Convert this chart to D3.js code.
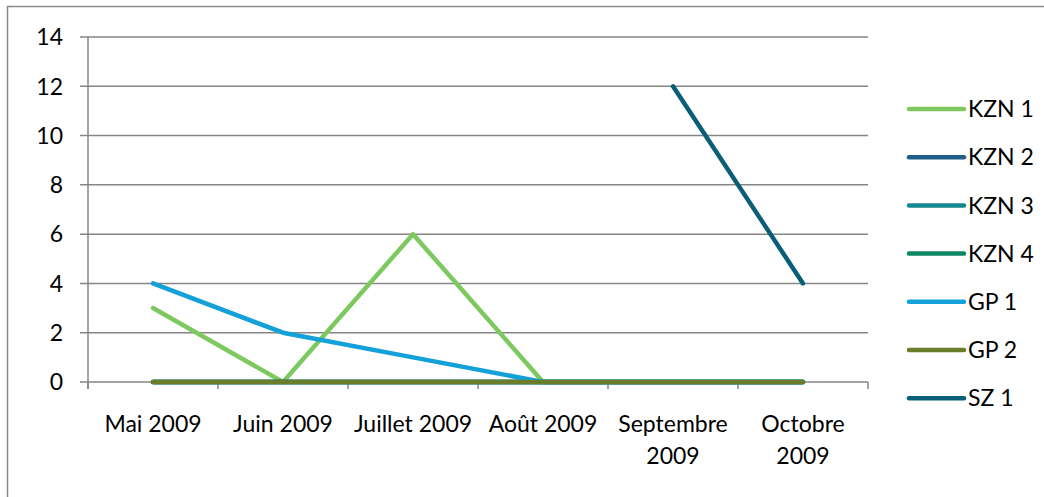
<!DOCTYPE html>
<html lang="fr">
<head>
<meta charset="UTF-8">
<title>Chart</title>
<script src="https://cdnjs.cloudflare.com/ajax/libs/d3/7.8.5/d3.min.js"></script>
<style>
  body { margin: 0; background: #fff; }
  text { font-family: Lato, "Open Sans", sans-serif; fill: #000; }
</style>
</head>
<body>
<div id="chart"></div>
<script>
var months = [["Mai 2009"], ["Juin 2009"], ["Juillet 2009"], ["Août 2009"], ["Septembre", "2009"], ["Octobre", "2009"]];
var yTicks = [0, 2, 4, 6, 8, 10, 12, 14];

var names  = ["KZN 1", "KZN 2", "KZN 3", "KZN 4", "GP 1", "GP 2", "SZ 1"];
var colors = ["#7ec95f", "#1d5f8a", "#14878f", "#0e8663", "#14a0d8", "#6a7d2a", "#0b5e78"];

var kzn1 = [3, 0, 6, 0, 0, 0];
var kzn2 = [0, 0, 0, 0, 0, 0];
var kzn3 = [0, 0, 0, 0, 0, 0];
var kzn4 = [0, 0, 0, 0, 0, 0];
var gp1  = [4, 2, 1, 0, 0, 0];
var gp2  = [0, 0, 0, 0, 0, 0];
var sz1  = [null, null, null, null, 12, 4];

var series = [kzn1, kzn2, kzn3, kzn4, gp1, gp2, sz1];

var width = 1044, height = 497;
var fontSize = 23;
var svg = d3.select("#chart").append("svg")
  .attr("width", width).attr("height", height);

// outer frame
svg.append("rect")
  .attr("x", 7.5).attr("y", 6.5)
  .attr("width", 1100).attr("height", 600)
  .attr("fill", "none").attr("stroke", "#8a8a8a").attr("stroke-width", 1.5);

var plotLeft = 88, plotRight = 868, plotTop = 37, plotBottom = 382;

var x = d3.scaleBand()
  .domain(d3.range(months.length))
  .range([plotLeft, plotRight]);
var y = d3.scaleLinear().domain([0, 14]).range([plotBottom, plotTop]);

// grid lines
svg.append("g").selectAll("line")
  .data(yTicks).enter().append("line")
  .attr("x1", plotLeft - 8).attr("x2", plotRight)
  .attr("y1", function(d) { return y(d); })
  .attr("y2", function(d) { return y(d); })
  .attr("stroke", "#868686").attr("stroke-width", 1.5);

// y axis
svg.append("line")
  .attr("x1", plotLeft).attr("x2", plotLeft)
  .attr("y1", plotTop).attr("y2", plotBottom + 7)
  .attr("stroke", "#868686").attr("stroke-width", 1.5);

svg.append("g").selectAll("text")
  .data(yTicks).enter().append("text")
  .attr("x", plotLeft - 25)
  .attr("y", function(d) { return y(d); })
  .attr("dy", "0.36em")
  .attr("text-anchor", "end")
  .attr("font-size", fontSize)
  .text(function(d) { return d; });

// x ticks
svg.append("g").selectAll("line")
  .data(d3.range(months.length + 1)).enter().append("line")
  .attr("x1", function(d) { return plotLeft + d * x.bandwidth(); })
  .attr("x2", function(d) { return plotLeft + d * x.bandwidth(); })
  .attr("y1", plotBottom).attr("y2", plotBottom + 7)
  .attr("stroke", "#868686").attr("stroke-width", 1.5);

var xl = svg.append("g").selectAll("text")
  .data(months).enter().append("text")
  .attr("text-anchor", "middle")
  .attr("font-size", fontSize)
  .attr("x", function(d, i) { return x(i) + x.bandwidth() / 2; })
  .attr("y", plotBottom + 50);
xl.selectAll("tspan")
  .data(function(d) { return d; }).enter().append("tspan")
  .attr("x", function() { return d3.select(this.parentNode).attr("x"); })
  .attr("dy", function(d, i) { return i === 0 ? 0 : 32; })
  .text(function(d) { return d; });

var line = d3.line()
  .defined(function(d) { return d != null; })
  .x(function(d, i) { return x(i) + x.bandwidth() / 2; })
  .y(function(d) { return y(d); });

svg.append("g").selectAll("path")
  .data(series).enter().append("path")
  .attr("d", line)
  .attr("fill", "none")
  .attr("stroke", function(d, i) { return colors[i]; })
  .attr("stroke-width", 4.5)
  .attr("stroke-linecap", "round")
  .attr("stroke-linejoin", "round");

// legend
var leg = svg.append("g").selectAll("g")
  .data(names).enter().append("g")
  .attr("transform", function(d, i) { return "translate(909," + (109 + i * 48.2) + ")"; });
leg.append("line")
  .attr("x1", 0).attr("x2", 55)
  .attr("stroke", function(d, i) { return colors[i]; })
  .attr("stroke-width", 4.5)
  .attr("stroke-linecap", "round");
leg.append("text")
  .attr("x", 59).attr("dy", "0.36em")
  .attr("font-size", fontSize)
  .text(function(d) { return d; });
</script>
</body>
</html>
